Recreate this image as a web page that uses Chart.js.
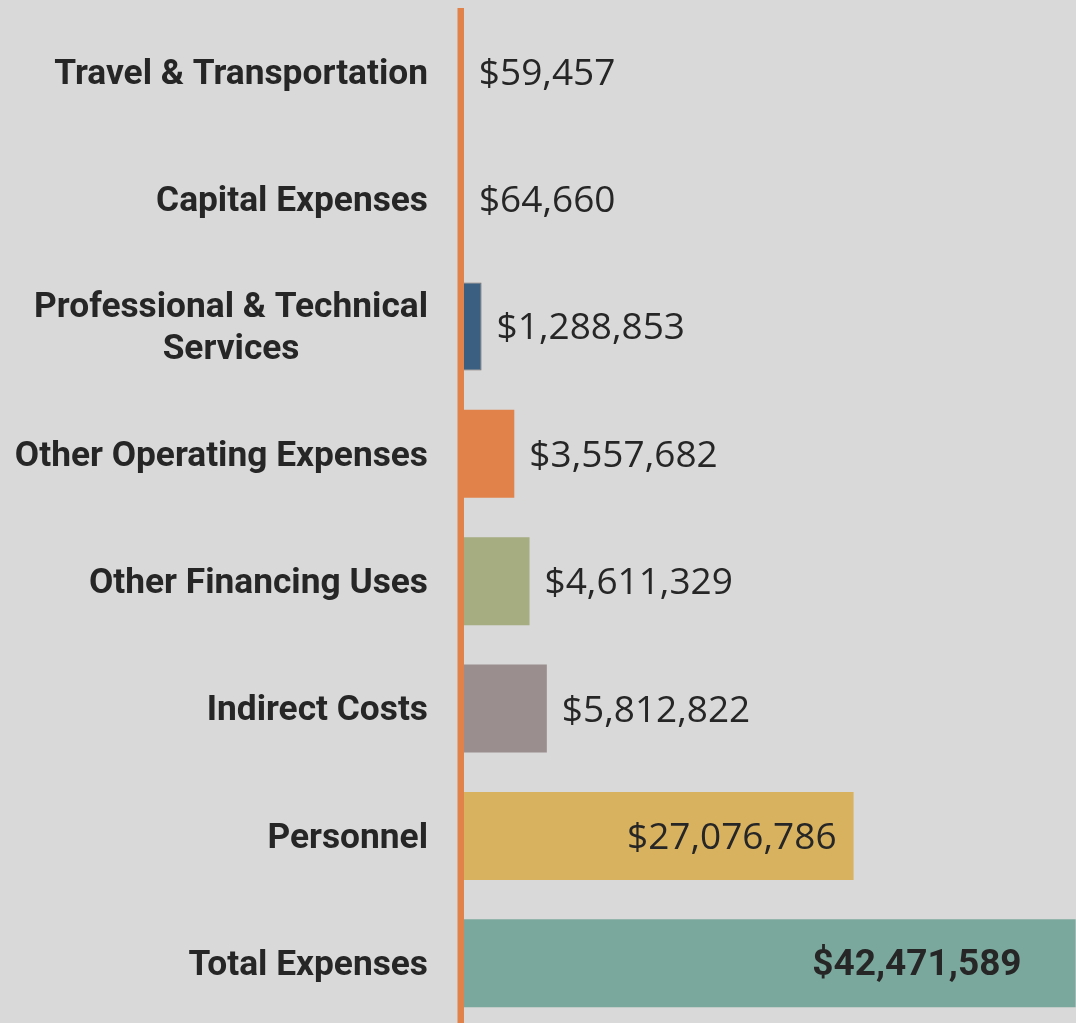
<!DOCTYPE html>
<html>
<head>
<meta charset="utf-8">
<script src="https://cdn.jsdelivr.net/npm/chart.js@4.4.1/dist/chart.umd.min.js"></script>
<style>
  html, body { margin: 0; padding: 0; background: #d9d9d9; overflow: hidden; }
  .wrap { position: relative; width: 1076px; height: 1027px; }
</style>
</head>
<body>
<div class="wrap"><canvas id="expChart"></canvas></div>
<script>
// данные
const categories = [
  "Travel & Transportation",
  "Capital Expenses",
  ["Professional & Technical", "Services"],
  "Other Operating Expenses",
  "Other Financing Uses",
  "Indirect Costs",
  "Personnel",
  "Total Expenses"
];
const amounts = [59457, 64660, 1288853, 3557682, 4611329, 5812822, 27076786, 42471589];
const barColors = ["#4a6f8f", "#c9a060", "#3a5f80", "#e0824a", "#a5ad81", "#9a8f8e", "#d9b25f", "#7ba89d"];
const borderColors = ["#4a6f8f", "#c9a060", "#7b6e6e", "#e0824a", "#a5ad81", "#9a8f8e", "#d9b25f", "#7ba89d"];

const LABEL_FONT = "bold 35.3px 'Liberation Sans Narrow', 'Roboto', sans-serif";
const VALUE_FONT = "37px 'Open Sans', sans-serif";
const TOTAL_FONT = "bold 37px 'Liberation Sans Narrow', 'Roboto', sans-serif";

function money(v) {
  return "$" + v.toLocaleString("en-US");
}

// фон
const bgPlugin = {
  id: "bg",
  beforeDraw(chart) {
    const ctx = chart.ctx;
    ctx.save();
    ctx.fillStyle = "#d9d9d9";
    ctx.fillRect(0, 0, chart.width, chart.height);
    ctx.restore();
  }
};

// подписи категорий
const catLabels = {
  id: "catLabels",
  afterDraw(chart) {
    const ctx = chart.ctx;
    const y = chart.scales.y;
    const right = chart.chartArea.left - 35;
    ctx.save();
    ctx.font = LABEL_FONT;
    ctx.fillStyle = "#262626";
    ctx.textBaseline = "middle";
    categories.forEach((lab, i) => {
      const cy = y.getPixelForValue(i) + 3;
      if (Array.isArray(lab)) {
        const maxW = Math.max(...lab.map((l) => ctx.measureText(l).width));
        const cx = right - maxW / 2;
        const lh = 42;
        ctx.textAlign = "center";
        lab.forEach((l, k) => {
          ctx.fillText(l, cx, cy + (k - (lab.length - 1) / 2) * lh);
        });
      } else {
        ctx.textAlign = "right";
        ctx.fillText(lab, right, cy);
      }
    });
    ctx.restore();
  }
};

// подписи значений + оранжевая линия
const valueLabels = {
  id: "valueLabels",
  afterDatasetsDraw(chart) {
    const ctx = chart.ctx;
    const meta = chart.getDatasetMeta(0);
    ctx.save();
    ctx.textBaseline = "middle";
    ctx.fillStyle = "#262626";
    meta.data.forEach((bar, i) => {
      const txt = money(amounts[i]);
      const isTotal = i === amounts.length - 1;
      ctx.font = isTotal ? TOTAL_FONT : VALUE_FONT;
      const w = ctx.measureText(txt).width;
      const barW = bar.x - bar.base;
      if (barW > w + 40) {
        ctx.textAlign = "right";
        ctx.fillText(txt, bar.x - (isTotal ? 54 : 17), bar.y + 2.5);
      } else {
        ctx.textAlign = "left";
        ctx.fillText(txt, bar.x + 15, bar.y + 2.5);
      }
    });

    const left = chart.chartArea.left;
    ctx.fillStyle = "#e0824a";
    ctx.fillRect(left - 5.5, 8, 6.5, chart.height - 8);
    ctx.restore();
  }
};

new Chart(document.getElementById("expChart"), {
  type: "bar",
  plugins: [bgPlugin, catLabels, valueLabels],
  data: {
    labels: categories,
    datasets: [
      {
        data: amounts,
        backgroundColor: barColors,
        borderColor: borderColors,
        borderWidth: [0, 0, 1, 0, 0, 0, 0, 0],
        borderSkipped: false,
        categoryPercentage: 1,
        barPercentage: 0.69
      }
    ]
  },
  options: {
    indexAxis: "y",
    responsive: true,
    maintainAspectRatio: false,
    animation: false,
    layout: { padding: { top: 8, bottom: 0, left: 0, right: 0 } },
    plugins: {
      legend: { display: false },
      tooltip: { enabled: false }
    },
    scales: {
      x: {
        display: false,
        min: 0,
        max: 42500000
      },
      y: {
        afterFit(scale) {
          scale.width = 463;
        },
        ticks: { display: false },
        grid: { display: false, drawTicks: false },
        border: { display: false }
      }
    }
  }
});
</script>
</body>
</html>
